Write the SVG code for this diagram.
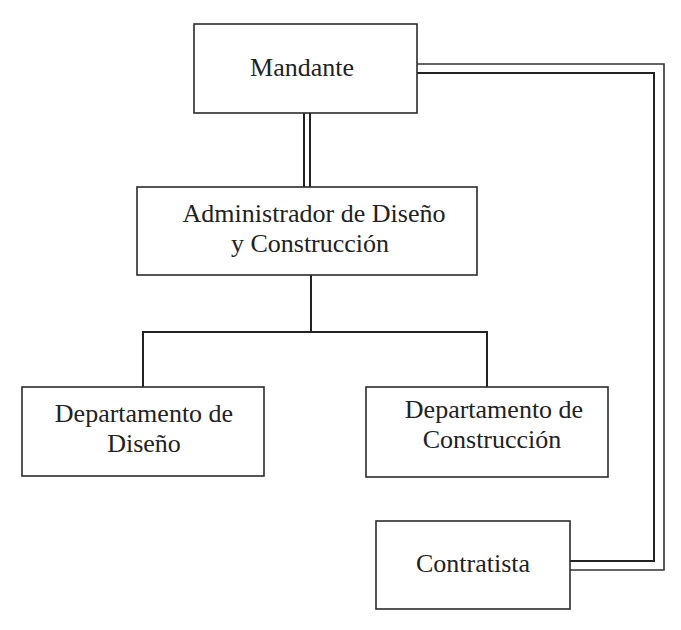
<svg xmlns="http://www.w3.org/2000/svg" width="681" height="630" viewBox="0 0 681 630">
<style>
.box{fill:#fff;stroke:#2b2b2b;stroke-width:1.6}
.t{font-family:"Liberation Serif","Times New Roman",serif;font-size:26px;fill:#222;text-anchor:middle}
.c{fill:none;stroke:#222;stroke-width:2}
.c2{fill:none;stroke:#333;stroke-width:1.6}
</style>
<rect width="681" height="630" fill="#fff"/>
<g id="connectors">
<line class="c" x1="304" y1="113" x2="304" y2="187"/>
<line class="c" x1="310" y1="113" x2="310" y2="187"/>
<polyline class="c2" points="417,64 664,64 664,570 570,570"/>
<polyline class="c" points="417,73 654,73 654,561 570,561"/>
<line class="c" x1="311" y1="275" x2="311" y2="332"/>
<polyline class="c" points="143,387 143,332 487,332 487,387"/>
</g>
<g id="mandante">
<rect class="box" x="194" y="24" width="223" height="89"/>
<text class="t" x="302" y="76">Mandante</text>
</g>
<g id="administrador">
<rect class="box" x="137" y="187" width="340" height="88"/>
<text class="t" x="314" y="222">Administrador de Diseño</text>
<text class="t" x="310" y="252">y Construcción</text>
</g>
<g id="dep-diseno">
<rect class="box" x="22" y="387" width="242" height="89"/>
<text class="t" x="144" y="422">Departamento de</text>
<text class="t" x="144" y="452">Diseño</text>
</g>
<g id="dep-construccion">
<rect class="box" x="366" y="387" width="242" height="90"/>
<text class="t" x="494" y="418">Departamento de</text>
<text class="t" x="492" y="448">Construcción</text>
</g>
<g id="contratista">
<rect class="box" x="376" y="521" width="194" height="88"/>
<text class="t" x="473" y="572">Contratista</text>
</g>
</svg>
